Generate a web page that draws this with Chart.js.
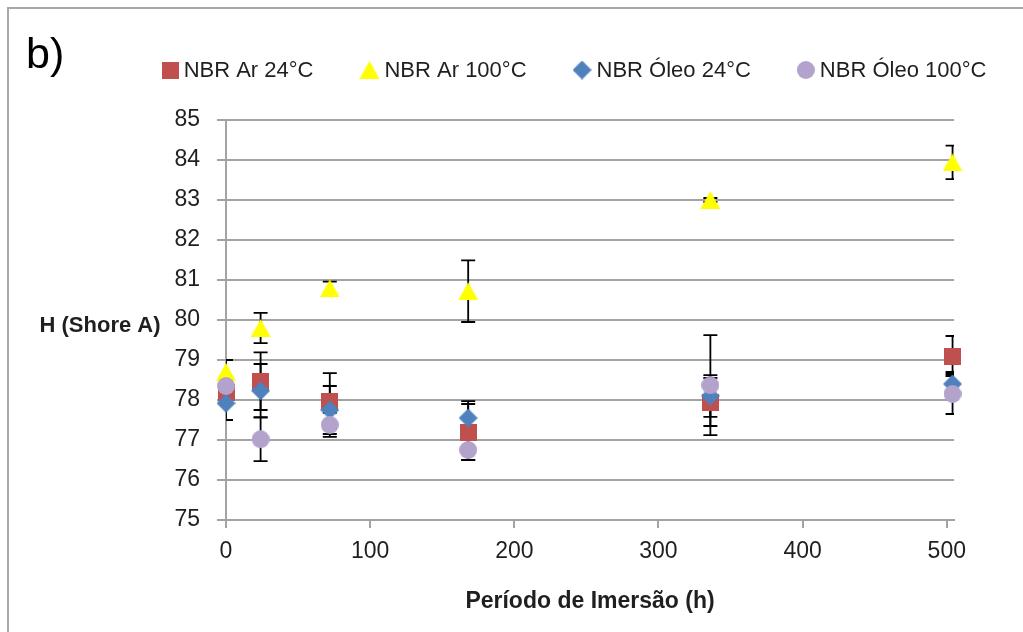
<!DOCTYPE html>
<html>
<head>
<meta charset="utf-8">
<script src="https://cdn.jsdelivr.net/npm/chart.js@4.4.1/dist/chart.umd.min.js"></script>
<style>
  html, body { margin: 0; padding: 0; background: #fff; overflow: hidden; }
  #wrap { position: relative; width: 1023px; height: 632px; }
  #wrap canvas { position: absolute; left: 0; top: 0; }
  #frame { position: absolute; left: 7px; top: 7px; width: 1200px; height: 800px;
           border: 2px solid #a8a8a8; box-sizing: border-box; pointer-events: none; }
</style>
</head>
<body>
<div id="wrap">
  <canvas id="chart" width="1023" height="632"></canvas>
  <div id="frame"></div>
</div>
<script>
// Hardness (Shore A) of NBR versus immersion time, mean ± deviation
const hours = [0, 24, 72, 168, 336, 504];
const seriesNames = ['NBR Ar 24°C', 'NBR Ar 100°C', 'NBR Óleo 24°C', 'NBR Óleo 100°C'];

const arAmb      = [78.2, 78.47, 77.97, 77.2, 77.95, 79.1];
const arAmbErr   = [0.3, 0.72, 0.7, 0.7, 0.6, 0.5];
const ar100      = [78.7, 79.8, 80.79, 80.72, 83.0, 83.94];
const ar100Err   = [0.3, 0.38, 0.17, 0.77, 0.05, 0.42];
const oleoAmb    = [77.92, 78.23, 77.75, 77.55, 78.1, 78.4];
const oleoAmbErr = [0.42, 0.67, 0.6, 0.42, 0.52, 0.3];
const oleo100    = [78.35, 77.02, 77.38, 76.75, 78.37, 78.15];
const oleo100Err = [0.2, 0.55, 0.3, 0.25, 1.25, 0.5];

const yTicks = [75, 76, 77, 78, 79, 80, 81, 82, 83, 84, 85];
const xTicks = [0, 100, 200, 300, 400, 500];

const FONT = '"Liberation Sans Narrow", "Liberation Sans", Arial, sans-serif';
const TEXT = '#1f1f1f';
const GRID = '#a3a3a3';

// marker bitmaps, centred on the point
function marker(shape, color) {
  const sizes = { square: [17, 17], triangle: [20, 18], diamond: [19, 19], circle: [18, 18] };
  const [w, h] = sizes[shape];
  const c = document.createElement('canvas');
  c.width = w; c.height = h;
  const g = c.getContext('2d');
  g.fillStyle = color;
  g.beginPath();
  if (shape === 'square') g.rect(0, 0, w, h);
  if (shape === 'triangle') { g.moveTo(w / 2, 0); g.lineTo(w, h); g.lineTo(0, h); g.closePath(); }
  if (shape === 'diamond') { g.moveTo(w / 2, 0); g.lineTo(w, h / 2); g.lineTo(w / 2, h); g.lineTo(0, h / 2); g.closePath(); }
  if (shape === 'circle') g.arc(w / 2, h / 2, w / 2, 0, Math.PI * 2);
  g.fill();
  return c;
}

function series(label, values, errors, shape, color, order) {
  return {
    label,
    data: hours.map((h, i) => ({ x: h, y: values[i] })),
    errors,
    pointStyle: marker(shape, color),
    pointRadius: 9,
    pointHoverRadius: 9,
    backgroundColor: color,
    borderColor: color,
    showLine: false,
    clip: false,
    order
  };
}

const datasets = [
  series(seriesNames[0], arAmb, arAmbErr, 'square', '#C0504D', 4),
  series(seriesNames[1], ar100, ar100Err, 'triangle', '#FFFF00', 3),
  series(seriesNames[2], oleoAmb, oleoAmbErr, 'diamond', '#4F81BD', 2),
  series(seriesNames[3], oleo100, oleo100Err, 'circle', '#B3A3CC', 1)
];

// vertical error bars with caps, kept inside the plot area
const errorBars = {
  id: 'errorBars',
  beforeDatasetsDraw(chart) {
    const { ctx, chartArea: a, scales: { x, y } } = chart;
    ctx.save();
    ctx.beginPath();
    ctx.rect(a.left, a.top - 1, a.right - a.left, a.bottom - a.top + 2);
    ctx.clip();
    ctx.strokeStyle = '#000';
    ctx.lineWidth = 1.8;
    const cap = 7;
    chart.data.datasets.forEach(ds => {
      ds.data.forEach((p, i) => {
        const e = ds.errors[i];
        const px = x.getPixelForValue(p.x);
        const hi = y.getPixelForValue(p.y + e);
        const lo = y.getPixelForValue(p.y - e);
        ctx.beginPath();
        ctx.moveTo(px, hi); ctx.lineTo(px, lo);
        ctx.moveTo(px - cap, hi); ctx.lineTo(px + cap, hi);
        ctx.moveTo(px - cap, lo); ctx.lineTo(px + cap, lo);
        ctx.stroke();
      });
    });
    ctx.restore();
  }
};

// panel letter, horizontal y-axis title and the legend row
const annotations = {
  id: 'annotations',
  afterDraw(chart) {
    const { ctx } = chart;
    ctx.save();
    ctx.fillStyle = '#000';
    ctx.font = '43px ' + FONT;
    ctx.textAlign = 'left';
    ctx.textBaseline = 'alphabetic';
    ctx.fillText('b)', 26, 68);

    ctx.fillStyle = TEXT;
    ctx.font = 'bold 22px ' + FONT;
    ctx.textAlign = 'center';
    ctx.textBaseline = 'middle';
    ctx.fillText('H (Shore A)', 100, chart.scales.y.getPixelForValue(79.85));

    ctx.font = '22px ' + FONT;
    ctx.textAlign = 'left';
    const gapIn = 5, gapOut = 46, cy = 70;
    const items = chart.data.datasets.map(ds => ({
      img: ds.pointStyle, text: ds.label, tw: ctx.measureText(ds.label).width
    }));
    const total = items.reduce((s, it) => s + it.img.width + gapIn + it.tw, 0) + gapOut * (items.length - 1);
    let x0 = 574 - total / 2;
    items.forEach(it => {
      ctx.drawImage(it.img, x0, cy - it.img.height / 2);
      x0 += it.img.width + gapIn;
      ctx.fillText(it.text, x0, cy + 1);
      x0 += it.tw + gapOut;
    });
    ctx.restore();
  }
};

new Chart(document.getElementById('chart'), {
  type: 'scatter',
  data: { datasets },
  options: {
    responsive: false,
    animation: false,
    events: [],
    layout: { padding: { top: 120, right: 69, bottom: 0, left: 0 } },
    plugins: { legend: { display: false }, tooltip: { enabled: false } },
    scales: {
      x: {
        type: 'linear',
        min: 0,
        max: 505,
        afterFit: s => { s.height = 112; },
        afterBuildTicks: s => { s.ticks = xTicks.map(v => ({ value: v })); },
        ticks: { color: TEXT, font: { family: FONT, size: 23 }, padding: 10, maxRotation: 0 },
        grid: { drawOnChartArea: false, drawTicks: true, tickLength: 8, color: GRID, lineWidth: 2 },
        border: { display: true, color: GRID, width: 2 },
        title: {
          display: true,
          text: 'Período de Imersão (h)',
          color: TEXT,
          font: { family: FONT, size: 23, weight: 'bold' },
          padding: { top: 0, bottom: 17 }
        }
      },
      y: {
        min: 75,
        max: 85,
        afterFit: s => { s.width = 226; },
        afterBuildTicks: s => { s.ticks = yTicks.map(v => ({ value: v })); },
        ticks: { color: TEXT, font: { family: FONT, size: 23 }, padding: 17 },
        grid: { color: GRID, lineWidth: 2, tickLength: 9, drawTicks: true },
        border: { display: true, color: GRID, width: 2 }
      }
    }
  },
  plugins: [errorBars, annotations]
});
</script>
</body>
</html>
